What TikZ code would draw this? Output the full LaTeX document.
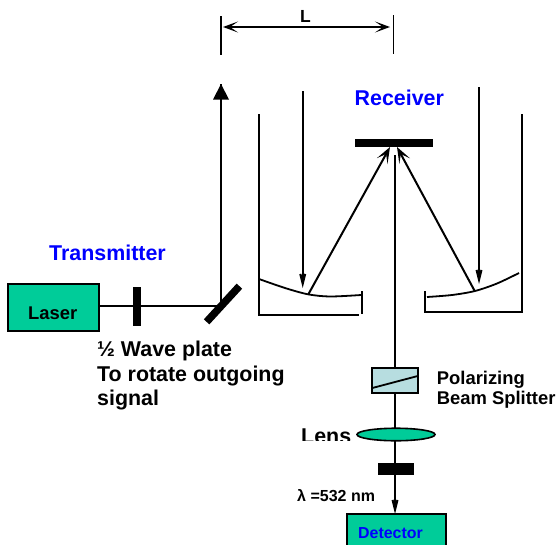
\documentclass[tikz,border=0pt]{standalone}
\usepackage{fontspec}
\setmainfont{Liberation Sans}
\usetikzlibrary{arrows.meta,shapes.geometric}

\definecolor{boxgreen}{HTML}{00CC99}
\definecolor{splitterblue}{HTML}{B7DDE0}

\tikzset{
  beam/.style = {line width = 2pt},
  inbeam/.style = {beam, -{Stealth[length=24pt, width=12pt, inset=13pt]}},
  upbeam/.style = {beam, -{Stealth[length=16pt, width=12pt, inset=8pt]}},
  dimbeam/.style = {line width = 1.6pt, {Stealth[length=15pt, width=11pt, inset=8pt]}-{Stealth[length=15pt, width=11pt, inset=8pt]}},
  wall/.style = {line width = 1.8pt},
  blackbar/.style = {rectangle, fill = black, inner sep = 0pt, outer sep = 0pt},
  greenbox/.style = {rectangle, draw = black, line width = 1.6pt, fill = boxgreen, inner sep = 0pt, outer sep = 0pt},
  bigtext/.style = {font = \fontsize{21.4}{25}\selectfont\bfseries, anchor = base west, inner sep = 0pt},
  smalltext/.style = {font = \fontsize{18.4}{20}\selectfont\bfseries, anchor = base west, inner sep = 0pt},
}

\begin{document}
\begin{tikzpicture}[x=1pt, y=-1pt]
  \clip (0,0) rectangle (556,544);

% transmitter side
  \node[greenbox,
      minimum width = 91pt,
      minimum height = 47pt] (laser) at (53.5,307.5) {};
  \node[smalltext] (lasertext) at (28,319) {Laser};

  \node[blackbar,
      minimum width = 8pt,
      minimum height = 39pt] (waveplate) at (137,306.5) {};

  \coordinate (foldpoint) at (221,306);
  \coordinate (outtip) at (221,84);

  \draw[beam] (laser.east |- foldpoint) -- (foldpoint);
  \draw[beam] (foldpoint) -- (outtip);
  \fill (outtip) -- (229,99.5) -- (213,99.5) -- cycle;

  \node[blackbar,
      rotate = 47.4,
      minimum width = 48.5pt,
      minimum height = 7.5pt] (foldmirror) at (223,304) {};

  \node[bigtext, text = blue] (transmitter) at (49,260.7) {Transmitter};
  \node[bigtext] (platetext) at (97,356.7) {½ Wave plate};
  \node[bigtext] (rotatetext) at (97,381.7) {To rotate outgoing};
  \node[bigtext] (signaltext) at (97,405.7) {signal};

% distance L
  \coordinate (ltop) at (221,16);
  \coordinate (lbottom) at (221,55);
  \coordinate (rtop) at (393.5,15);
  \coordinate (rbottom) at (393.5,54);
  \coordinate (larrow) at (223,27);
  \coordinate (rarrow) at (390,27);

  \draw[wall] (ltop) -- (lbottom);
  \draw[wall] (rtop) -- (rbottom);
  \draw[dimbeam] (larrow) -- (rarrow);
  \node[font = \fontsize{17.5}{20}\selectfont\bfseries,
      anchor = base west,
      inner sep = 0pt] (ltext) at (300,22.7) {L};

% receiver
  \node[bigtext, text = blue] (receiver) at (354.5,105) {Receiver};

  \node[blackbar,
      minimum width = 78pt,
      minimum height = 8pt] (secondary) at (394,143) {};

  % left half
  \draw[wall] (259,114) -- (259,315) -- (359,315);
  \draw[wall] (361.7,291) -- (361.7,314);
  \draw[wall] plot[smooth] coordinates {(259,279) (285,288) (308,294.3) (330,296.5) (361,295)};

  \coordinate (leftin) at (302.7,91);
  \coordinate (leftspot) at (302.7,288);
  \coordinate (leftfoot) at (308.5,294);
  \coordinate (lefttip) at (390,147);

  \draw[inbeam] (leftin) -- (leftspot);
  \draw[upbeam] (leftfoot) -- (lefttip);

  % right half
  \draw[wall] (521.7,114) -- (521.7,312) -- (424,312);
  \draw[wall] (425,291) -- (425,313);
  \draw[wall] plot[smooth] coordinates {(427,297) (452,295) (475,291) (497,283.5) (519,273)};

  \coordinate (rightin) at (479,87);
  \coordinate (rightspot) at (479,284);
  \coordinate (rightfoot) at (474.7,291);
  \coordinate (righttip) at (397,147);

  \draw[inbeam] (rightin) -- (rightspot);
  \draw[upbeam] (rightfoot) -- (righttip);

% detection chain
  \coordinate (chaintop) at (395,155);

  \node[rectangle,
      draw = black,
      line width = 1.6pt,
      fill = splitterblue,
      outer sep = 0pt,
      minimum width = 45.5pt,
      minimum height = 25pt] (splitter) at (395,380.5) {};
  \coordinate (splitleft) at (372.3,388);
  \coordinate (splitright) at (417.7,376);
  \draw[wall] (splitleft) -- (splitright);

  \begin{scope}
    \clip (290,420) rectangle (352,440);
    \node[bigtext] (lenstext) at (301,443) {Lens};
  \end{scope}

  \node[ellipse,
      draw = black,
      line width = 1.6pt,
      fill = boxgreen,
      inner sep = 0pt,
      outer sep = 0pt,
      minimum width = 78pt,
      minimum height = 12.5pt] (lens) at (396,434.5) {};

  \node[blackbar,
      minimum width = 36.5pt,
      minimum height = 12pt] (filter) at (396,469) {};

  \node[greenbox,
      minimum width = 99pt,
      minimum height = 70pt] (detector) at (396.5,549) {};

  \draw[beam] (chaintop) -- (splitter.north -| chaintop);
  \draw[beam] (splitter.south -| chaintop) -- (lens.north -| chaintop);
  \draw[beam] (lens.south -| chaintop) -- (filter.north -| chaintop);
  \draw[inbeam] (filter.south -| chaintop) -- (detector.north -| chaintop);

  \node[smalltext] (polarizing) at (436.7,384) {Polarizing};
  \node[smalltext] (beamsplit) at (436.7,404) {Beam Splitter};
  \node[font = \fontsize{16}{18}\selectfont\bfseries,
      anchor = base west,
      inner sep = 0pt] (wavelength) at (297,501.7) {λ =532 nm};
  \node[smalltext,
      text = blue,
      font = \fontsize{15.9}{18}\selectfont\bfseries] (detectortext) at (358,538) {Detector};

\end{tikzpicture}
\end{document}
